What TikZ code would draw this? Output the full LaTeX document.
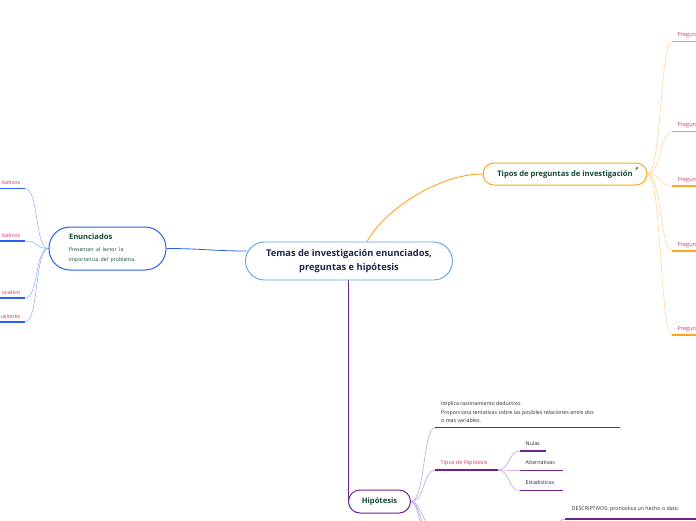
\documentclass[tikz,border=0pt]{standalone}
\usepackage{fontspec}
\setmainfont{Open Sans}
\usepackage{xcolor}
\usetikzlibrary{calc,arrows.meta}
\definecolor{topicblue}{RGB}{90,165,225}
\definecolor{topicnavy}{RGB}{25,40,75}
\definecolor{enunblue}{RGB}{40,95,245}
\definecolor{enunline}{RGB}{135,170,255}
\definecolor{tiporange}{RGB}{255,165,25}
\definecolor{tipline}{RGB}{255,210,140}
\definecolor{hippurple}{RGB}{105,35,150}
\definecolor{hipline}{RGB}{185,150,215}
\definecolor{titlegreen}{RGB}{20,70,55}
\definecolor{labelred}{RGB}{205,55,90}
\pgfdeclarelayer{background}
\pgfsetlayers{background,main}

\begin{document}
\begin{tikzpicture}[x=1pt,y=-1pt,
    topic/.style={draw=topicblue, fill=white, line width=0.9pt, rounded corners=19pt,
      minimum width=207pt, minimum height=38pt, align=center, text=topicnavy,
      font=\bfseries\fontsize{9.3}{14}\selectfont},
    subtopic/.style={fill=white, line width=1pt, text=titlegreen,
      font=\bfseries\fontsize{7.6}{10.5}\selectfont},
    leaf/.style={inner sep=0.5pt, text=labelred, font=\fontsize{5.5}{7}\selectfont},
    note/.style={inner sep=0.5pt, text=black!85, align=left, font=\fontsize{5.3}{8.5}\selectfont},
    uline/.style={line width=1.1pt},
    twig/.style={line width=0.5pt}]
  \useasboundingbox (0,0) rectangle (696,520);

  % Central topic
  \node[topic] (tema) at (349,261) {Temas de investigación enunciados,\\preguntas e hipótesis};

  % Main topics
  \node[subtopic, draw=enunblue, rounded corners=21pt, minimum width=117pt, minimum height=43pt,
    align=left, text width=77pt] (enun) at (107.5,248.5)
    {Enunciados\\[1pt]{\mdseries\fontsize{5.2}{10.5}\selectfont Presentan al lector la\\importancia del problema.}};
  \node[subtopic, draw=tiporange, rounded corners=11pt, minimum width=164pt, minimum height=22pt]
    (tipos) at (565,174) {Tipos de preguntas de investigación\hspace{6pt}};
  \draw[titlegreen, line width=0.7pt, -{Latex[length=1.6pt,width=1.8pt]}]
    ($(tipos.east)+(-12,-4.5)$) -- ++(2.4,-2.4);
  \node[subtopic, draw=hippurple, rounded corners=11.5pt, minimum width=62pt, minimum height=23pt]
    (hip) at (379.5,501.5) {Hipótesis};

  \begin{pgfonlayer}{background}
    % Topic links
    \draw[enunblue, line width=0.8pt] (enun.east) .. controls +(35,0) and +(-35,0) .. ($(tema.west)+(2,-10)$);
    \draw[tiporange, line width=0.9pt] ($(tema.north)+(18,0)$) .. controls +(16,-30) and +(-45,0) .. (tipos.west);
    \draw[hippurple, line width=0.9pt] (tema.south -| hip.west) -- (hip.west);

    % Enunciados leaves
    \foreach \y/\t [count=\i] in {188.5/itativos, 241/itativos, 298/ucativo, 322/usiones} {
      \coordinate (e\i) at (25,\y);
      \draw[uline, enunblue] (e\i) -- ++(-26,0);
      \node[leaf, anchor=base east] at (21,\y-4) {\t};
      \draw[twig, enunline] (enun.west) .. controls +(-14,0) and +(14,0) .. (e\i);
    }

    % Preguntas leaves
    \foreach \y [count=\i] in {41.5, 131.5, 186, 251, 335} {
      \coordinate (p\i) at (672,\y);
      \draw[uline, tiporange] (p\i) -- ++(26,0);
      \node[leaf, anchor=base west] at (677,\y-5) {Pregun};
      \draw[twig, tipline] (tipos.east) .. controls +(14,0) and +(-12,0) .. (p\i);
    }

    % Hipotesis branches
    \coordinate (h1) at (435,427.7);
    \coordinate (h2) at (435,470);
    \draw[uline, hippurple] (h1) -- ++(185,0);
    \draw[uline, hippurple] (h2) -- ++(63,0);
    \node[note, anchor=south west] (nota) at (440.5,423.5)
      {Implica razonamiento deductivo.\\Proporciona tentativas sobre las posibles relaciones entre dos\\o mas variables.};
    \node[leaf, anchor=base west] (tiphip) at (440,464.5) {Tipos de Hipótesis};
    \draw[twig, hipline] (hip.east) .. controls +(14,0) and +(-12,0) .. (h1);
    \draw[twig, hipline] (hip.east) .. controls +(14,0) and +(-12,0) .. (h2);

    \coordinate (t0) at (498,470);
    \foreach \y/\t/\w [count=\i] in {451/Nulas/26, 470.7/Alternativas/43, 490.7/Estadisticas/43} {
      \coordinate (t\i) at (520,\y);
      \draw[uline, hippurple] (t\i) -- ++(\w,0);
      \node[note, anchor=base west] at (525,\y-6) {\t};
      \draw[twig, hipline] (t0) .. controls +(12,0) and +(-12,0) .. (t\i);
    }

    % branches below the page
    \foreach \y [count=\i] in {560, 600, 640} {
      \coordinate (hd\i) at (445,\y);
      \draw[twig, hipline] (hip.east) .. controls +(14,0) and +(-12,0) .. (hd\i);
    }
    \coordinate (d0) at (540,560);
    \coordinate (d1) at (565,519);
    \node[note, anchor=base west] (desc) at (571,510) {DESCRIPTIVOS: pronostica un hecho o dato.};
    \draw[uline, hippurple] (d1) -- ++(135,0);
    \draw[twig, hipline] (d0) .. controls +(12,0) and +(-12,0) .. (d1);
  \end{pgfonlayer}
\end{tikzpicture}
\end{document}
